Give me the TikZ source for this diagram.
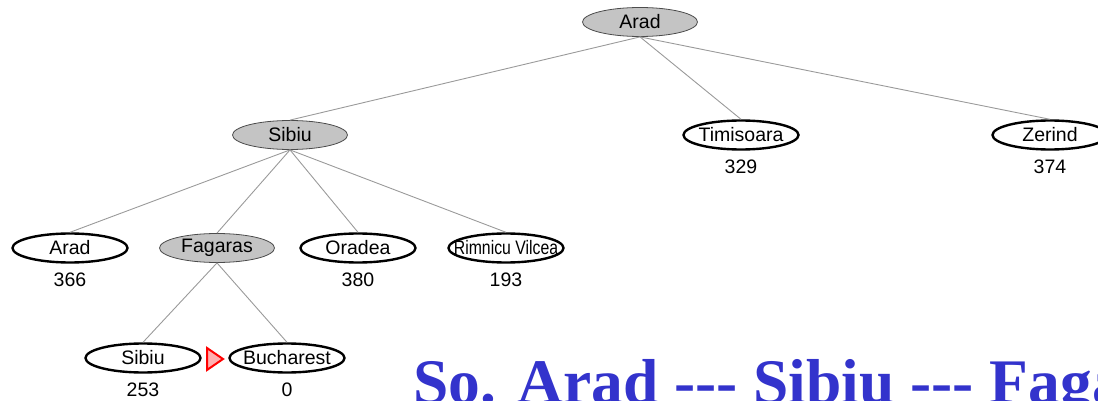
\documentclass[tikz,border=0pt]{standalone}
\usepackage{fontspec}
\setmainfont{Liberation Sans}
\newfontfamily\titlefont{Liberation Serif}
\usetikzlibrary{shapes.geometric}
\definecolor{nodegray}{HTML}{C4C4C4}
\definecolor{edgegray}{HTML}{9A9A9A}
\definecolor{titleblue}{HTML}{3333CC}
\definecolor{tripink}{HTML}{FFB0B0}
\newcommand{\nodetxt}[1]{\makebox[0pt][c]{#1}}
\tikzset{
  base/.style={ellipse, minimum width=115pt, minimum height=29pt, inner sep=0pt,
    font=\fontsize{19.5}{21}\selectfont},
  expanded/.style={base, fill=nodegray, draw=black!70, line width=0.8pt},
  leaf/.style={base, fill=white, draw=black, line width=2.4pt},
  num/.style={inner sep=0pt, font=\fontsize{19.5}{21}\selectfont},
  edge/.style={draw=edgegray, line width=0.9pt},
  title/.style={anchor=base west, inner sep=0pt, text=titleblue,
    font=\titlefont\bfseries\fontsize{63.5}{70}\selectfont}
}
\begin{document}
\begin{tikzpicture}[x=1pt,y=-1pt]
\useasboundingbox (0,0) rectangle (1098,401);
\clip (0,0) rectangle (1098,401);
% level 0
\node[expanded] (arad0) at (640,22) {\nodetxt{Arad}};
% level 1
\node[expanded] (sibiu1) at (290,135) {\nodetxt{Sibiu}};
\node[leaf] (timi) at (741,135) {\nodetxt{Timisoara}};
\node[leaf] (zerind) at (1050,135) {\nodetxt{Zerind}};
\node[num] (n329) at (741,167) {329};
\node[num] (n374) at (1050,167) {374};
% level 2
\node[leaf] (arad2) at (70,248) {\nodetxt{Arad}};
\node[expanded] (fag) at (217,248) {\nodetxt{Fagaras}};
\node[leaf] (orad) at (358,248) {\nodetxt{Oradea}};
\node[leaf] (rim) at (506,248) {\nodetxt{\scalebox{0.81}[1]{Rimnicu Vilcea}}};
\node[num] (n366) at (70,280) {366};
\node[num] (n380) at (358,280) {380};
\node[num] (n193) at (506,280) {193};
% level 3
\node[leaf] (sibiu3) at (143,358) {\nodetxt{Sibiu}};
\node[leaf] (buch) at (287,358) {\nodetxt{Bucharest}};
\node[num] (n253) at (143,390) {253};
\node[num] (n0) at (287,390) {0};
% edges
\draw[edge] (arad0.south) -- (sibiu1.north);
\draw[edge] (arad0.south) -- (timi.north);
\draw[edge] (arad0.south) -- (zerind.north);
\draw[edge] (sibiu1.south) -- (arad2.north);
\draw[edge] (sibiu1.south) -- (fag.north);
\draw[edge] (sibiu1.south) -- (orad.north);
\draw[edge] (sibiu1.south) -- (rim.north);
\draw[edge] (fag.south) -- (sibiu3.north);
\draw[edge] (fag.south) -- (buch.north);
% red marker
\coordinate (tA) at (207,348);
\coordinate (tB) at (207,370);
\coordinate (tC) at (223,359);
\draw[red, line width=2pt, fill=tripink, line join=miter] (tA) -- (tC) -- (tB) -- cycle;
% title
\node[title] (ttl) at (413,403) {So. Arad {-}{-}{-} Sibiu {-}{-}{-} Fagaras {-}{-}{-} Bucharest};
\end{tikzpicture}
\end{document}
